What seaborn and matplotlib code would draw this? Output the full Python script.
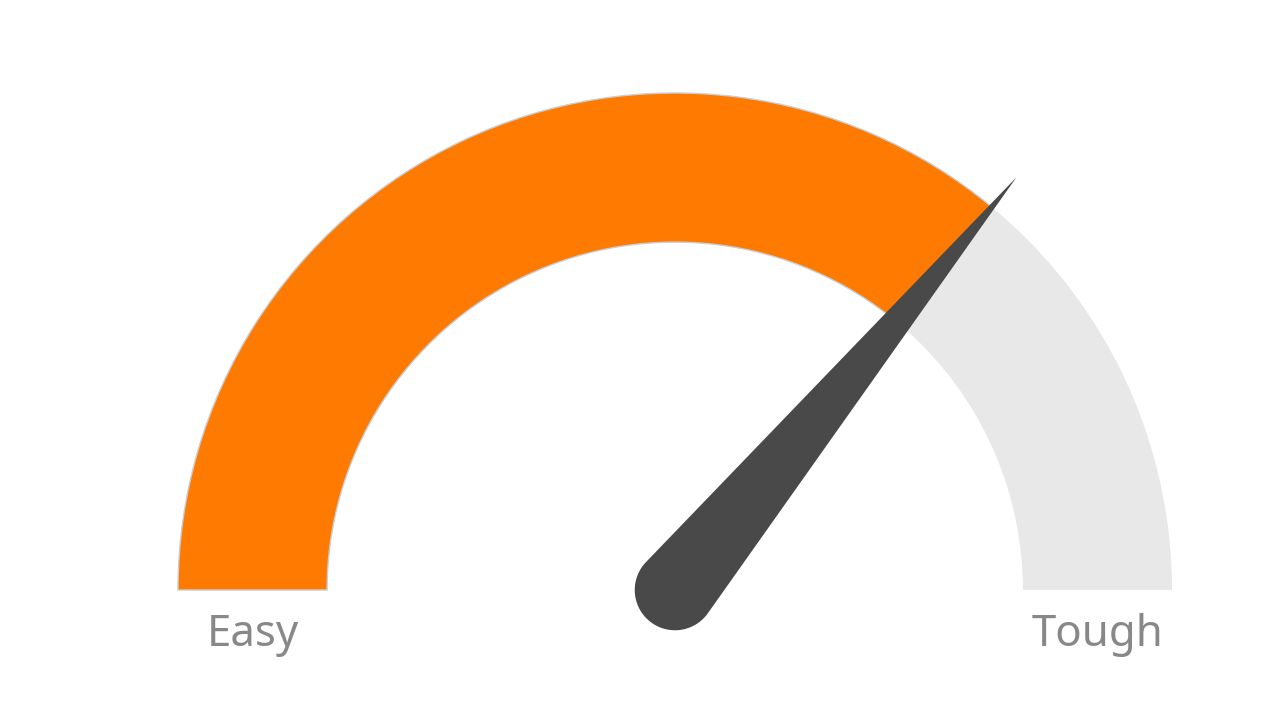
import numpy as np
import matplotlib
matplotlib.use("Agg")
import matplotlib.pyplot as plt
from matplotlib.patches import Wedge, Polygon
import seaborn as sns

# gauge data
gauge_min = 0
gauge_max = 100
gauge_value = 72
end_labels = ["Easy", "Tough"]

fill_color = "#FF7A00"
track_color = "#E8E8E8"
needle_color = "#494949"
label_color = "#888888"

sns.set_theme(style="white")
plt.rcParams['font.family'] = ['Noto Sans', 'DejaVu Sans']


def value_to_angle(v):
    """Map a gauge value to an angle in degrees (180 = left, 0 = right)."""
    frac = (v - gauge_min) / (gauge_max - gauge_min)
    return 180.0 * (1.0 - frac)


fig = plt.figure(figsize=(12.8, 7.2), dpi=100)
ax = fig.add_axes([0, 0, 1, 1])

outer_r = 1.0
inner_r = 0.70
ring_w = outer_r - inner_r

# background track (full range)
ax.add_patch(Wedge((0, 0), outer_r, 0, 180, width=ring_w,
                   facecolor=track_color, edgecolor="none"))

# filled part up to the value
value_angle = value_to_angle(gauge_value)
ax.add_patch(Wedge((0, 0), outer_r, value_angle, 180, width=ring_w,
                   facecolor=fill_color, edgecolor="#c9ced2", linewidth=1.0))

# needle: round base tapering to a point
base_r = 0.081
needle_len = 1.078
theta = np.radians(value_angle)
tip = np.array([needle_len * np.cos(theta), needle_len * np.sin(theta)])
off = np.arccos(base_r / needle_len)
arc = np.linspace(theta + off, theta + 2 * np.pi - off, 120)
pts = np.column_stack([base_r * np.cos(arc), base_r * np.sin(arc)])
pts = np.vstack([tip, pts])
ax.add_patch(Polygon(pts, closed=True, facecolor=needle_color, edgecolor="none"))

# end labels under the ring
mid_r = (outer_r + inner_r) / 2
ax.text(-mid_r, -0.09, end_labels[0], ha="center", va="center",
        fontsize=31.5, color=label_color)
ax.text(mid_r, -0.09, end_labels[1], ha="center", va="center",
        fontsize=31.5, color=label_color)

# scale: 497 px per unit, centre at pixel (675, 590)
px = 497.0
ax.set_xlim(-675 / px, (1280 - 675) / px)
ax.set_ylim(-(720 - 590) / px, 590 / px)
ax.set_aspect("equal", adjustable="datalim")
ax.axis("off")

fig.savefig("out.png", dpi=100, facecolor="white")
